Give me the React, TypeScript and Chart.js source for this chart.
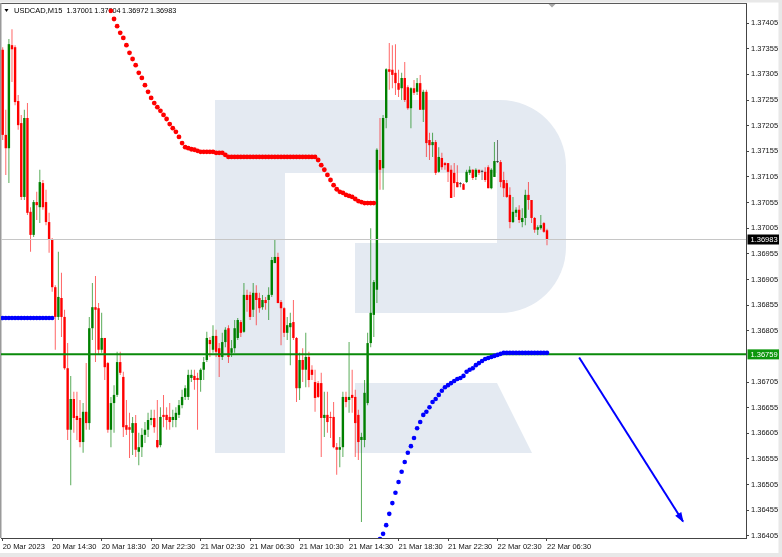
import React, { useEffect, useRef } from "react";
import { Chart, registerables } from "chart.js";

Chart.register(...registerables);

const FONT = '"Liberation Sans", Arial, sans-serif';

const symbol = "USDCAD,M15";

// time axis: one label every 16 M15 bars (4 hours)
const timeLabels = [
  "20 Mar 2023", "20 Mar 14:30", "20 Mar 18:30", "20 Mar 22:30",
  "21 Mar 02:30", "21 Mar 06:30", "21 Mar 10:30", "21 Mar 14:30",
  "21 Mar 18:30", "21 Mar 22:30", "22 Mar 02:30", "22 Mar 06:30",
];
const barsPerLabel = 16;

// price axis ticks
const priceTicks = [
  1.36405, 1.36455, 1.36505, 1.36555, 1.36605, 1.36655, 1.36705,
  1.36805, 1.36855, 1.36905, 1.36955, 1.37005, 1.37055, 1.37105,
  1.37155, 1.37205, 1.37255, 1.37305, 1.37355, 1.37405,
];

// OHLC of the M15 bars
const open = [
  1.37353, 1.37187, 1.37161, 1.37362, 1.37358, 1.37253, 1.37210, 1.37066, 1.37220, 1.37037,
  1.36992, 1.37056, 1.37046, 1.37093, 1.37056, 1.37017, 1.36982, 1.36890, 1.36832, 1.36869,
  1.36832, 1.36732, 1.36612, 1.36672, 1.36639, 1.36635, 1.36588, 1.36647, 1.36625, 1.36810,
  1.36851, 1.36849, 1.36768, 1.36791, 1.36742, 1.36612, 1.36664, 1.36680, 1.36744, 1.36715,
  1.36621, 1.36617, 1.36606, 1.36625, 1.36569, 1.36578, 1.36602, 1.36612, 1.36631, 1.36635,
  1.36592, 1.36582, 1.36641, 1.36641, 1.36637, 1.36631, 1.36631, 1.36641, 1.36660, 1.36676,
  1.36676, 1.36713, 1.36717, 1.36713, 1.36709, 1.36729, 1.36748, 1.36787, 1.36768, 1.36795,
  1.36771, 1.36754, 1.36783, 1.36810, 1.36762, 1.36771, 1.36791, 1.36822, 1.36803, 1.36875,
  1.36875, 1.36846, 1.36879, 1.36869, 1.36851, 1.36865, 1.36865, 1.36875, 1.36937, 1.36949,
  1.36861, 1.36849, 1.36801, 1.36812, 1.36822, 1.36791, 1.36693, 1.36748, 1.36729, 1.36754,
  1.36729, 1.36705, 1.36703, 1.36703, 1.36635, 1.36641, 1.36637, 1.36637, 1.36578, 1.36573,
  1.36578, 1.36676, 1.36670, 1.36680, 1.36676, 1.36641, 1.36592, 1.36592, 1.36664, 1.36781,
  1.36836, 1.36885, 1.37138, 1.37122, 1.37220, 1.37315, 1.37314, 1.37308, 1.37288, 1.37278,
  1.37298, 1.37280, 1.37239, 1.37278, 1.37271, 1.37288, 1.37236, 1.37271, 1.37177, 1.37167,
  1.37173, 1.37115, 1.37142, 1.37132, 1.37132, 1.37119, 1.37113, 1.37095, 1.37091, 1.37091,
  1.37095, 1.37113, 1.37119, 1.37105, 1.37119, 1.37115, 1.37115, 1.37124, 1.37083, 1.37105,
  1.37134, 1.37134, 1.37099, 1.37093, 1.37070, 1.37017, 1.37035, 1.37041, 1.37017, 1.37025,
  1.37070, 1.37060, 1.37025, 1.37002, 1.37005, 1.37015, 1.37001,
];
const high = [
  1.37358, 1.37236, 1.37374, 1.37393, 1.37362, 1.37265, 1.37226, 1.37236, 1.37249, 1.37046,
  1.37060, 1.37076, 1.37119, 1.37099, 1.37080, 1.37035, 1.36986, 1.36894, 1.36959, 1.36918,
  1.36846, 1.36781, 1.36717, 1.36686, 1.36686, 1.36670, 1.36664, 1.36742, 1.36832, 1.36898,
  1.36912, 1.36859, 1.36840, 1.36791, 1.36744, 1.36676, 1.36699, 1.36764, 1.36764, 1.36725,
  1.36670, 1.36645, 1.36637, 1.36641, 1.36606, 1.36615, 1.36627, 1.36645, 1.36651, 1.36651,
  1.36670, 1.36656, 1.36680, 1.36656, 1.36664, 1.36651, 1.36656, 1.36670, 1.36690, 1.36699,
  1.36729, 1.36729, 1.36729, 1.36723, 1.36732, 1.36754, 1.36803, 1.36793, 1.36816, 1.36807,
  1.36781, 1.36801, 1.36812, 1.36816, 1.36787, 1.36826, 1.36830, 1.36826, 1.36898, 1.36885,
  1.36881, 1.36898, 1.36894, 1.36879, 1.36875, 1.36871, 1.36890, 1.36949, 1.36982, 1.36957,
  1.36865, 1.36851, 1.36832, 1.36840, 1.36865, 1.36793, 1.36762, 1.36771, 1.36801, 1.36764,
  1.36738, 1.36729, 1.36707, 1.36723, 1.36686, 1.36686, 1.36647, 1.36666, 1.36586, 1.36598,
  1.36686, 1.36686, 1.36783, 1.36729, 1.36690, 1.36651, 1.36606, 1.36709, 1.36801, 1.37005,
  1.36904, 1.37161, 1.37220, 1.37226, 1.37317, 1.37366, 1.37362, 1.37364, 1.37314, 1.37308,
  1.37329, 1.37284, 1.37280, 1.37294, 1.37298, 1.37304, 1.37275, 1.37275, 1.37191, 1.37191,
  1.37177, 1.37163, 1.37152, 1.37134, 1.37132, 1.37128, 1.37132, 1.37128, 1.37095, 1.37093,
  1.37119, 1.37126, 1.37120, 1.37122, 1.37119, 1.37119, 1.37124, 1.37128, 1.37122, 1.37173,
  1.37177, 1.37138, 1.37115, 1.37099, 1.37085, 1.37066, 1.37046, 1.37050, 1.37044, 1.37080,
  1.37095, 1.37060, 1.37027, 1.37011, 1.37031, 1.37017, 1.37004,
];
const low = [
  1.37177, 1.37109, 1.37093, 1.37290, 1.37245, 1.37197, 1.37060, 1.37060, 1.37031, 1.36959,
  1.36988, 1.37021, 1.37015, 1.37041, 1.37011, 1.36957, 1.36881, 1.36768, 1.36826, 1.36793,
  1.36729, 1.36592, 1.36504, 1.36606, 1.36592, 1.36578, 1.36567, 1.36612, 1.36612, 1.36787,
  1.36744, 1.36758, 1.36762, 1.36709, 1.36606, 1.36578, 1.36606, 1.36676, 1.36719, 1.36598,
  1.36602, 1.36557, 1.36563, 1.36559, 1.36543, 1.36559, 1.36586, 1.36598, 1.36621, 1.36606,
  1.36576, 1.36578, 1.36617, 1.36612, 1.36612, 1.36617, 1.36617, 1.36635, 1.36654, 1.36670,
  1.36670, 1.36705, 1.36690, 1.36612, 1.36686, 1.36709, 1.36744, 1.36754, 1.36762, 1.36754,
  1.36715, 1.36748, 1.36773, 1.36742, 1.36754, 1.36762, 1.36787, 1.36793, 1.36801, 1.36842,
  1.36826, 1.36832, 1.36816, 1.36840, 1.36846, 1.36846, 1.36826, 1.36871, 1.36937, 1.36859,
  1.36777, 1.36793, 1.36787, 1.36738, 1.36787, 1.36666, 1.36670, 1.36705, 1.36695, 1.36695,
  1.36709, 1.36647, 1.36674, 1.36559, 1.36598, 1.36606, 1.36596, 1.36576, 1.36524, 1.36539,
  1.36559, 1.36656, 1.36645, 1.36645, 1.36559, 1.36553, 1.36432, 1.36578, 1.36660, 1.36773,
  1.36793, 1.36859, 1.37080, 1.37080, 1.37200, 1.37275, 1.37278, 1.37265, 1.37261, 1.37255,
  1.37251, 1.37236, 1.37200, 1.37265, 1.37265, 1.37236, 1.37212, 1.37144, 1.37138, 1.37144,
  1.37109, 1.37113, 1.37119, 1.37119, 1.37095, 1.37064, 1.37066, 1.37085, 1.37085, 1.37080,
  1.37093, 1.37109, 1.37099, 1.37099, 1.37109, 1.37099, 1.37095, 1.37083, 1.37081, 1.37105,
  1.37132, 1.37085, 1.37066, 1.37064, 1.37005, 1.37015, 1.37027, 1.37015, 1.37007, 1.37011,
  1.37041, 1.37015, 1.36996, 1.36992, 1.37002, 1.36996, 1.36972,
];
const close = [
  1.37187, 1.37161, 1.37364, 1.37354, 1.37251, 1.37206, 1.37066, 1.37220, 1.37035, 1.36992,
  1.37056, 1.37050, 1.37095, 1.37046, 1.37017, 1.36982, 1.36890, 1.36832, 1.36871, 1.36832,
  1.36732, 1.36612, 1.36672, 1.36635, 1.36631, 1.36588, 1.36647, 1.36625, 1.36810, 1.36851,
  1.36846, 1.36768, 1.36791, 1.36734, 1.36612, 1.36664, 1.36680, 1.36744, 1.36723, 1.36617,
  1.36612, 1.36612, 1.36625, 1.36573, 1.36578, 1.36602, 1.36612, 1.36631, 1.36635, 1.36617,
  1.36578, 1.36637, 1.36637, 1.36631, 1.36627, 1.36637, 1.36645, 1.36660, 1.36676, 1.36693,
  1.36719, 1.36719, 1.36709, 1.36709, 1.36729, 1.36744, 1.36791, 1.36779, 1.36795, 1.36764,
  1.36754, 1.36783, 1.36807, 1.36754, 1.36771, 1.36810, 1.36826, 1.36801, 1.36875, 1.36865,
  1.36832, 1.36879, 1.36865, 1.36849, 1.36865, 1.36859, 1.36875, 1.36943, 1.36949, 1.36859,
  1.36849, 1.36801, 1.36816, 1.36820, 1.36791, 1.36693, 1.36748, 1.36729, 1.36754, 1.36709,
  1.36719, 1.36674, 1.36676, 1.36635, 1.36641, 1.36627, 1.36635, 1.36578, 1.36573, 1.36578,
  1.36676, 1.36666, 1.36676, 1.36674, 1.36625, 1.36588, 1.36598, 1.36684, 1.36781, 1.36840,
  1.36900, 1.37158, 1.37119, 1.37220, 1.37315, 1.37310, 1.37304, 1.37288, 1.37275, 1.37298,
  1.37255, 1.37239, 1.37278, 1.37269, 1.37288, 1.37236, 1.37271, 1.37171, 1.37167, 1.37173,
  1.37113, 1.37144, 1.37124, 1.37128, 1.37115, 1.37064, 1.37093, 1.37085, 1.37091, 1.37080,
  1.37115, 1.37119, 1.37103, 1.37119, 1.37113, 1.37115, 1.37099, 1.37083, 1.37119, 1.37136,
  1.37134, 1.37095, 1.37083, 1.37066, 1.37017, 1.37037, 1.37041, 1.37021, 1.37025, 1.37070,
  1.37060, 1.37025, 1.37002, 1.37007, 1.37011, 1.36998, 1.36983,
];

// trailing stop dots (red above price, blue below price)
const redDotsStart = 35;
const redDots = [
  1.37429, 1.37413, 1.37399, 1.37386, 1.37376, 1.37362, 1.37347, 1.37335, 1.37323, 1.37308,
  1.37298, 1.37284, 1.37271, 1.37259, 1.37249, 1.37241, 1.37234, 1.37226, 1.37218, 1.37208,
  1.37200, 1.37193, 1.37183, 1.37171, 1.37163, 1.37161, 1.37159, 1.37158, 1.37156,
  1.37154, 1.37154, 1.37154, 1.37154, 1.37154, 1.37152, 1.37152, 1.37152, 1.37148,
  1.37144, 1.37144, 1.37144, 1.37144, 1.37144, 1.37144, 1.37144, 1.37144, 1.37144, 1.37144,
  1.37144, 1.37144, 1.37144, 1.37144, 1.37144, 1.37144, 1.37144, 1.37144, 1.37144, 1.37144,
  1.37144, 1.37144, 1.37144, 1.37144, 1.37144, 1.37144, 1.37144, 1.37144, 1.37144,
  1.37138, 1.37128, 1.37119, 1.37109, 1.37099, 1.37089, 1.37081, 1.37076, 1.37074, 1.37070,
  1.37068, 1.37066, 1.37062, 1.37058, 1.37056, 1.37054, 1.37054, 1.37054, 1.37054,
];
const blueDotsAStart = 0;
const blueDotsA = [
  1.36830, 1.36830, 1.36830, 1.36830, 1.36830, 1.36830, 1.36830, 1.36830, 1.36830,
  1.36830, 1.36830, 1.36830, 1.36830, 1.36830, 1.36830, 1.36830, 1.36830,
];
const blueDotsBStart = 122;
const blueDotsB = [
  1.36399, 1.36409, 1.36426, 1.36448, 1.36469, 1.36489, 1.36510, 1.36530, 1.36549, 1.36567,
  1.36580, 1.36596, 1.36615, 1.36627, 1.36641, 1.36647, 1.36656, 1.36666, 1.36672, 1.36680,
  1.36688, 1.36695, 1.36699, 1.36703, 1.36707, 1.36711, 1.36713, 1.36717, 1.36725, 1.36729,
  1.36732, 1.36738, 1.36742, 1.36746, 1.36750, 1.36752, 1.36754, 1.36756, 1.36758, 1.36760,
  1.36762, 1.36762, 1.36762, 1.36762, 1.36762, 1.36762, 1.36762, 1.36762, 1.36762, 1.36762,
  1.36762, 1.36762, 1.36762, 1.36762, 1.36762,
];

// horizontal price levels
const bidPrice = 1.36983;
const levelPrice = 1.36759;

// forecast arrow (bar position, price)
const arrowBars = [186.4, 220.0];
const arrowPrices = [1.36753, 1.36433];

// visible window
const xMin = -0.55;
const xMax = 240.35;
const yMin = 1.364009;
const yMax = 1.374442;

const RED = "#ff0000";
const GREEN = "#008000";
const DOJI = "#333333";

const backdrop = {
  id: "backdrop",
  beforeDraw(chart: any) {
    const { ctx, width, height } = chart;
    ctx.save();
    ctx.fillStyle = "#ffffff";
    ctx.fillRect(0, 0, width, height);
    ctx.fillStyle = "#e8e8e8";
    ctx.fillRect(0, 0, width, 2.5);
    ctx.fillRect(width - 3.5, 0, 3.5, height);
    ctx.fillRect(0, height - 4, width, 4);

    // broker logo watermark
    ctx.fillStyle = "rgb(228,234,242)";
    ctx.fillRect(215, 100, 70, 353);
    ctx.fillRect(215, 100, 284, 73);
    ctx.fillRect(355, 243, 144, 70);
    ctx.beginPath();
    ctx.moveTo(497, 100);
    ctx.arcTo(566, 100, 566, 170, 66);
    ctx.arcTo(566, 313, 497, 313, 66);
    ctx.lineTo(497, 313);
    ctx.closePath();
    ctx.fill();
    ctx.beginPath();
    ctx.moveTo(355, 383);
    ctx.lineTo(497, 383);
    ctx.lineTo(532, 453);
    ctx.lineTo(355, 453);
    ctx.closePath();
    ctx.fill();
    ctx.restore();
  },
  beforeDatasetsDraw(chart: any) {
    const { ctx, chartArea } = chart;
    ctx.save();
    // frame lines
    ctx.fillStyle = "#5a5a5a";
    ctx.fillRect(0, 3, chartArea.right + 1, 1);
    ctx.fillStyle = "#9a9a9a";
    ctx.fillRect(0, 3, 1.5, chartArea.bottom - 3);
    // chart shift marker
    ctx.fillStyle = "#a8a8a8";
    ctx.beginPath();
    ctx.moveTo(548.5, 4);
    ctx.lineTo(555.5, 4);
    ctx.lineTo(552, 7.5);
    ctx.closePath();
    ctx.fill();
    // header
    const n = close.length;
    ctx.fillStyle = "#000";
    ctx.beginPath();
    ctx.moveTo(4.5, 9);
    ctx.lineTo(8.5, 9);
    ctx.lineTo(6.5, 12);
    ctx.closePath();
    ctx.fill();
    ctx.textBaseline = "middle";
    ctx.textAlign = "left";
    ctx.font = `7.5px ${FONT}`;
    ctx.fillText(symbol, 14, 10.5);
    ctx.font = `7.3px ${FONT}`;
    [open[n - 1], high[n - 1], low[n - 1], close[n - 1]].forEach((v, k) => {
      ctx.fillText(v.toFixed(5), 66.5 + k * 27.8, 10.5);
    });
    ctx.restore();
  },
  afterDatasetsDraw(chart: any) {
    const idx = chart.data.datasets.findIndex((d: any) => d.label === "arrow");
    if (idx < 0) return;
    const pts = chart.getDatasetMeta(idx).data;
    if (pts.length < 2) return;
    const a = pts[0];
    const b = pts[1];
    const ang = Math.atan2(b.y - a.y, b.x - a.x);
    const len = 9;
    const half = 3.6;
    const { ctx } = chart;
    ctx.save();
    ctx.fillStyle = "#0000ff";
    ctx.beginPath();
    ctx.moveTo(b.x + Math.cos(ang) * 1, b.y + Math.sin(ang) * 1);
    const bx = b.x - Math.cos(ang) * len;
    const by = b.y - Math.sin(ang) * len;
    ctx.lineTo(bx - Math.sin(ang) * half, by + Math.cos(ang) * half);
    ctx.lineTo(bx + Math.sin(ang) * half, by - Math.cos(ang) * half);
    ctx.closePath();
    ctx.fill();
    ctx.restore();
  },
  afterDraw(chart: any) {
    const { ctx } = chart;
    const y = chart.scales.y;
    const box = (price: number, bg: string) => {
      const py = y.getPixelForValue(price);
      ctx.fillStyle = bg;
      ctx.fillRect(747.5, py - 5, 31.5, 10);
      ctx.fillStyle = "#ffffff";
      ctx.font = `7.5px ${FONT}`;
      ctx.textBaseline = "middle";
      ctx.textAlign = "left";
      ctx.fillText(price.toFixed(5), 750.5, py + 0.5);
    };
    ctx.save();
    box(bidPrice, "#000000");
    box(levelPrice, "#0c960c");
    ctx.restore();
  },
};

export default function App() {
  const canvasRef = useRef<HTMLCanvasElement>(null);

  useEffect(() => {
    document.body.style.margin = "0";
    const canvas = canvasRef.current;
    if (!canvas) return;
    const idx = close.map((_, i) => i);
    const bodyColor = idx.map((i) => (close[i] > open[i] ? GREEN : close[i] < open[i] ? RED : DOJI));
    const wickColor = idx.map((i) =>
      close[i] > open[i] ? "rgba(0,128,0,0.65)" : close[i] < open[i] ? "rgba(255,0,0,0.6)" : "rgba(40,40,40,0.6)"
    );
    const blueDots = [
      ...blueDotsA.map((v, k) => ({ x: blueDotsAStart + k, y: v })),
      ...blueDotsB.map((v, k) => ({ x: blueDotsBStart + k, y: v })),
    ];
    const tickFont = { family: FONT, size: 7.5 };

    const chart = new Chart(canvas, {
      type: "bar",
      data: {
        datasets: [
          {
            type: "line",
            label: "stopRed",
            data: redDots.map((v, k) => ({ x: redDotsStart + k, y: v })),
            showLine: false,
            pointRadius: 2.4,
            pointBackgroundColor: RED,
            pointBorderWidth: 0,
            order: 0,
          },
          {
            type: "line",
            label: "stopBlue",
            data: blueDots,
            showLine: false,
            pointRadius: 2.3,
            pointBackgroundColor: "#0000ff",
            pointBorderWidth: 0,
            order: 0,
          },
          {
            type: "line",
            label: "arrow",
            data: arrowBars.map((x, k) => ({ x, y: arrowPrices[k] })),
            borderColor: "#0000ff",
            borderWidth: 2,
            pointRadius: 0,
            order: 1,
          },
          {
            type: "line",
            label: "level",
            data: [{ x: xMin, y: levelPrice }, { x: xMax, y: levelPrice }],
            borderColor: "#0a8a0a",
            borderWidth: 2,
            pointRadius: 0,
            order: 1,
          },
          {
            type: "line",
            label: "bid",
            data: [{ x: xMin, y: bidPrice }, { x: xMax, y: bidPrice }],
            borderColor: "#c6c6c6",
            borderWidth: 1,
            pointRadius: 0,
            order: 1,
          },
          {
            type: "bar",
            label: "body",
            data: idx.map((i) => ({ x: i, y: [open[i], close[i]] })),
            backgroundColor: bodyColor,
            barThickness: 2.4,
            minBarLength: 1,
            inflateAmount: 0,
            grouped: false,
            order: 2,
          },
          {
            type: "bar",
            label: "wick",
            data: idx.map((i) => ({ x: i, y: [low[i], high[i]] })),
            backgroundColor: wickColor,
            barThickness: 1,
            inflateAmount: 0,
            grouped: false,
            order: 3,
          },
        ] as any,
      },
      options: {
        responsive: false,
        animation: false,
        devicePixelRatio: 1,
        events: [],
        layout: { padding: { left: 1, top: 3, right: 0, bottom: 0 }, autoPadding: false },
        plugins: {
          legend: { display: false },
          tooltip: { enabled: false },
          title: { display: false },
        },
        scales: {
          x: {
            type: "linear",
            min: xMin,
            max: xMax,
            offset: false,
            bounds: "data",
            grid: { display: true, drawOnChartArea: false, drawTicks: true, tickLength: 3, color: "#444", offset: false },
            border: { display: true, color: "#444" },
            ticks: {
              autoSkip: false,
              maxRotation: 0,
              minRotation: 0,
              align: "start",
              padding: 1,
              color: "#111",
              font: tickFont,
              callback: (v: any) => timeLabels[Math.round(Number(v) / barsPerLabel)] ?? "",
            },
            afterBuildTicks: (s: any) => {
              s.ticks = timeLabels.map((_, k) => ({ value: k * barsPerLabel }));
            },
            afterFit: (s: any) => {
              s.height = 19;
              s.paddingLeft = 0;
              s.paddingRight = 0;
            },
          },
          y: {
            type: "linear",
            position: "right",
            min: yMin,
            max: yMax,
            bounds: "data",
            beginAtZero: false,
            grid: { display: true, drawOnChartArea: false, drawTicks: true, tickLength: 3, color: "#444" },
            border: { display: true, color: "#444" },
            ticks: {
              autoSkip: false,
              padding: 2,
              color: "#111",
              font: tickFont,
              callback: (v: any) => Number(v).toFixed(5),
            },
            afterBuildTicks: (s: any) => {
              s.ticks = priceTicks.map((v) => ({ value: v }));
            },
            afterFit: (s: any) => {
              s.width = 36;
              s.paddingTop = 0;
              s.paddingBottom = 0;
            },
          },
        },
      } as any,
      plugins: [backdrop],
    });

    return () => chart.destroy();
  }, []);

  return (
    <div style={{ position: "absolute", left: 0, top: 0, width: 782, height: 557 }}>
      <canvas ref={canvasRef} width={782} height={557} style={{ display: "block" }} />
    </div>
  );
}
